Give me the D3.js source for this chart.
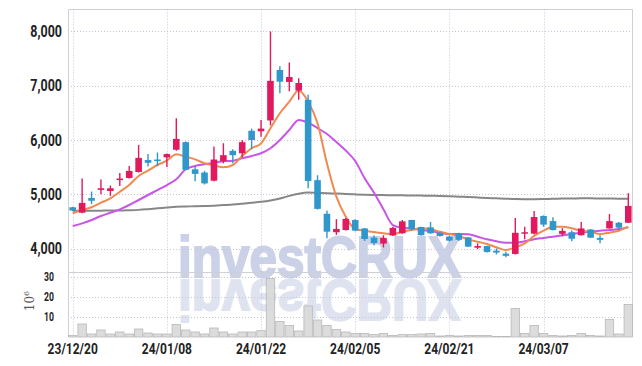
<!DOCTYPE html>
<html>
<head>
<meta charset="utf-8">
<script src="https://cdn.jsdelivr.net/npm/d3@7"></script>
<style>
  body { margin: 0; background: #fff; }
  svg { display: block; }
</style>
</head>
<body>
<svg></svg>
<script>
// trading days shown on the chart
let dates = ["23/12/20","23/12/21","23/12/22","23/12/26","23/12/27","23/12/28","24/01/02","24/01/03","24/01/04","24/01/05",
    "24/01/08","24/01/09","24/01/10","24/01/11","24/01/12","24/01/15","24/01/16","24/01/17","24/01/18","24/01/19",
    "24/01/22","24/01/23","24/01/24","24/01/25","24/01/26","24/01/29","24/01/30","24/01/31","24/02/01","24/02/02",
    "24/02/05","24/02/06","24/02/07","24/02/08","24/02/13","24/02/14","24/02/15","24/02/16","24/02/19","24/02/20",
    "24/02/21","24/02/22","24/02/23","24/02/26","24/02/27","24/02/28","24/02/29","24/03/04","24/03/05","24/03/06",
    "24/03/07","24/03/08","24/03/11","24/03/12","24/03/13","24/03/14","24/03/15","24/03/18","24/03/19","24/03/20"];

let open = [4760,4660,4930,5080,5060,5260,5300,5410,5630,5640, 5680,5820,5960,5460,5400,5250,5610,5800,5755,6170,
    6160,6360,7290,7070,6910,6740,5260,4640,4300,4340, 4525,4370,4200,4090,4240,4280,4525,4395,4390,4290,
    4220,4280,4205,4015,4045,3960,3905,3900,4275,4275, 4600,4505,4270,4300,4245,4350,4195,4370,4475,4475];
let close = [4700,4840,4880,5110,5110,5290,5430,5670,5580,5610, 5740,6020,5450,5375,5200,5640,5720,5720,5960,6000,
    6210,7090,7075,7160,7050,5245,4730,4310,4360,4545, 4330,4175,4100,4195,4380,4500,4355,4245,4280,4230,
    4145,4160,4035,4045,3935,3925,3865,4290,4300,4580, 4440,4340,4325,4180,4370,4200,4160,4505,4385,4785];
let high = [4770,5290,5050,5270,5160,5390,5520,5910,5740,5770, 5750,6400,5970,5520,5430,5880,5940,5830,6000,6210,
    6370,8000,7360,7430,7140,6835,5350,4700,4540,4560, 4540,4380,4240,4245,4400,4525,4530,4400,4490,4300,
    4240,4290,4210,4095,4050,4000,3940,4560,4400,4690, 4610,4575,4375,4330,4490,4360,4245,4635,4490,5020];
let low = [4690,4650,4820,5000,4970,5150,5290,5400,5510,5520, 5500,5800,5440,5240,5180,5240,5570,5570,5680,5830,
    6060,6270,6860,6900,6740,5110,4720,4190,4250,4330, 4320,4140,4060,4020,4230,4270,4330,4240,4270,4220,
    4130,4140,4030,3990,3925,3890,3840,3890,4170,4260, 4400,4330,4225,4135,4240,4195,4095,4365,4340,4470];

// moving averages
let maShort = [4650,4710,4760,4844,4925,5047,5170,5336,5435,5539, 5619,5736,5692,5643,5570,5532,5497,5539,5705,5847,
    5938,6216,6492,6706,6910,6706,6308,5570,4955,4587, 4359,4328,4304,4281,4267,4310,4341,4372,4353,4310,
    4267,4230,4168,4126,4083,4022,3972,4022,4096,4230, 4328,4402,4402,4372,4328,4310,4267,4292,4328,4402];
let maMid = [4414,4464,4525,4599,4660,4722,4802,4894,4986,5078, 5170,5275,5460,5520,5551,5582,5607,5619,5662,5705,
    5755,5847,6000,6184,6369,6320,6220,6110,5963,5806, 5613,5294,5029,4722,4433,4384,4366,4341,4323,4292,
    4267,4267,4262,4218,4169,4132,4107,4107,4132,4169, 4194,4218,4243,4267,4292,4310,4328,4341,4359,4390];
let maLong = [4695,4695,4697,4698,4700,4700,4705,4712,4725,4740, 4755,4770,4775,4778,4783,4790,4800,4810,4825,4842,
    4860,4885,4920,4970,5010,5030,5025,5020,5012,5005, 4998,4992,4988,4985,4982,4980,4978,4975,4972,4968,
    4962,4955,4948,4940,4932,4925,4918,4912,4910,4910, 4912,4915,4920,4922,4925,4925,4922,4920,4918,4915];

// volume in millions
let volume = [0.8,6.5,1.5,3.5,1.5,2.5,1.5,4,2,1.5, 1.5,6.3,3.5,2.5,1.5,4.5,2.5,1.5,2.5,2.5,
    3.2,29.3,7.8,5.8,3,15.5,8.5,5.8,3.8,2.5, 1.8,1.8,1.2,1.8,0.8,1.2,1.2,1.5,1.8,0.5,
    0.8,0.5,0.8,0.8,0.8,0.3,0.3,14.3,1.8,5.8, 1.8,0.8,0.5,0.8,1.8,0.8,0.5,8.8,1.5,16.3];

let priceTicks = [4000, 5000, 6000, 7000, 8000];
let volumeTicks = [10, 20, 30];
let dateTicks = ["23/12/20","24/01/08","24/01/22","24/02/05","24/02/21","24/03/07"];

let width = 642,
    height = 366;

let svg = d3.select("svg")
    .attr("width", width)
    .attr("height", height)
    .attr("viewBox", "0 0 " + width + " " + height);

let plotLeft = 68, plotRight = 633,
    plotTop = 9.5, split = 272, plotBottom = 337;

let x = d3.scaleBand().domain(dates).range([plotLeft, plotRight]).padding(0);
let y = d3.scaleLinear().domain([3567, 8405]).range([split, plotTop]);
let yv = d3.scaleLinear().domain([0, 32.5]).range([plotBottom, split]);

let red = "#e2195f", blue = "#2f97c9";
let gridColor = "#c6c6d6";
let labelFont = "Roboto, 'DejaVu Sans Condensed', sans-serif";

// watermark + reflection
let wm = svg.append("g").attr("id", "watermark")
    .style("font-family", "'Liberation Sans', Arial, sans-serif")
    .style("font-weight", "bold").style("font-size", "58px");
wm.append("text")
    .attr("x", 178).attr("y", 277)
    .attr("textLength", 283).attr("lengthAdjust", "spacingAndGlyphs")
    .attr("fill", "#cbd1e7").attr("stroke", "#cbd1e7").attr("stroke-width", 2)
    .text("investCRUX");
wm.append("text")
    .attr("transform", "translate(0,557) scale(1,-1)")
    .attr("x", 178).attr("y", 277)
    .attr("textLength", 283).attr("lengthAdjust", "spacingAndGlyphs")
    .attr("fill", "#cbd1e7").attr("stroke", "#cbd1e7").attr("stroke-width", 2)
    .attr("opacity", 0.6)
    .text("investCRUX");

// grid
let grid = svg.append("g").attr("id", "grid")
    .attr("stroke", gridColor).attr("stroke-width", 1).attr("stroke-dasharray", "1,2");
grid.selectAll(".vg").data(dateTicks).enter().append("line")
    .attr("x1", d => Math.round(x(d) + x.bandwidth() / 2) + 0.5)
    .attr("x2", d => Math.round(x(d) + x.bandwidth() / 2) + 0.5)
    .attr("y1", plotTop).attr("y2", plotBottom);
grid.selectAll(".hg").data(priceTicks).enter().append("line")
    .attr("x1", plotLeft).attr("x2", plotRight)
    .attr("y1", d => Math.round(y(d)) + 0.5).attr("y2", d => Math.round(y(d)) + 0.5);
grid.selectAll(".vgh").data(volumeTicks).enter().append("line")
    .attr("x1", plotLeft).attr("x2", plotRight)
    .attr("y1", d => Math.round(yv(d)) + 0.5).attr("y2", d => Math.round(yv(d)) + 0.5);

// frame
svg.append("path")
    .attr("d", "M" + (plotLeft + 0.5) + "," + plotBottom + "V" + plotTop + "H" + (plotRight - 0.5) + "V" + plotBottom)
    .attr("fill", "none").attr("stroke", "#cfcfd8");
svg.append("line")
    .attr("x1", plotLeft).attr("x2", plotRight).attr("y1", split + 0.5).attr("y2", split + 0.5)
    .attr("stroke", "#cfcfd8");

// volume bars
svg.append("g").attr("id", "volume")
    .selectAll("rect").data(volume).enter().append("rect")
    .attr("x", (d, i) => x(dates[i]) + 0.5)
    .attr("width", x.bandwidth() - 1)
    .attr("y", d => yv(d))
    .attr("height", d => plotBottom - yv(d))
    .attr("fill", "#d8d8d8").attr("fill-opacity", 0.9)
    .attr("stroke", "#b8b8b8").attr("stroke-width", 0.8);

// moving averages
let cx = i => x(dates[i]) + x.bandwidth() / 2;
let line = d3.line().x((d, i) => cx(i)).y(d => y(d)).curve(d3.curveMonotoneX);
svg.append("path").datum(maLong).attr("d", line)
    .attr("fill", "none").attr("stroke", "#878787").attr("stroke-width", 2);
svg.append("path").datum(maMid).attr("d", line)
    .attr("fill", "none").attr("stroke", "#c855e8").attr("stroke-width", 2);
svg.append("path").datum(maShort).attr("d", line)
    .attr("fill", "none").attr("stroke", "#f08a50").attr("stroke-width", 2);

// candles
let candles = svg.append("g").attr("id", "candles")
    .selectAll("g").data(dates).enter().append("g");
let bw = x.bandwidth() * 0.7;
candles.append("line")
    .attr("x1", (d, i) => cx(i)).attr("x2", (d, i) => cx(i))
    .attr("y1", (d, i) => y(high[i])).attr("y2", (d, i) => y(low[i]))
    .attr("stroke", (d, i) => close[i] >= open[i] ? red : blue)
    .attr("stroke-width", 1.4);
candles.append("rect")
    .attr("x", (d, i) => cx(i) - bw / 2)
    .attr("width", bw)
    .attr("y", (d, i) => y(Math.max(open[i], close[i])))
    .attr("height", (d, i) => Math.max(1.5, Math.abs(y(open[i]) - y(close[i]))))
    .attr("fill", (d, i) => close[i] >= open[i] ? red : blue);

// axis labels (narrow, so squeezed horizontally)
svg.append("g").selectAll("text").data(priceTicks).enter().append("text")
    .attr("transform", d => "translate(62," + y(d) + ") scale(0.78,1)")
    .attr("dy", "0.36em")
    .attr("text-anchor", "end")
    .style("font-family", labelFont).style("font-size", "16px").style("font-weight", "bold")
    .attr("fill", "#222")
    .text(d3.format(","));
svg.append("g").selectAll("text").data(volumeTicks).enter().append("text")
    .attr("transform", d => "translate(54," + yv(d) + ") scale(0.72,1)")
    .attr("dy", "0.36em")
    .attr("text-anchor", "end")
    .style("font-family", labelFont).style("font-size", "12px").style("font-weight", "bold")
    .attr("fill", "#222")
    .text(d => d);
svg.append("g").selectAll("text").data(dateTicks).enter().append("text")
    .attr("transform", d => "translate(" + (x(d) + x.bandwidth() / 2) + ",354) scale(0.8,1)")
    .attr("text-anchor", "middle")
    .style("font-family", labelFont).style("font-size", "15px").style("font-weight", "bold")
    .attr("fill", "#222")
    .text(d => d);

let unit = svg.append("text")
    .attr("transform", "translate(34,301) rotate(-90)")
    .attr("text-anchor", "middle")
    .style("font-family", "'DejaVu Serif', serif").style("font-size", "12px")
    .attr("fill", "#555");
unit.append("tspan").text("10");
unit.append("tspan").attr("dy", "-5").style("font-size", "8px").text("6");
</script>
</body>
</html>
